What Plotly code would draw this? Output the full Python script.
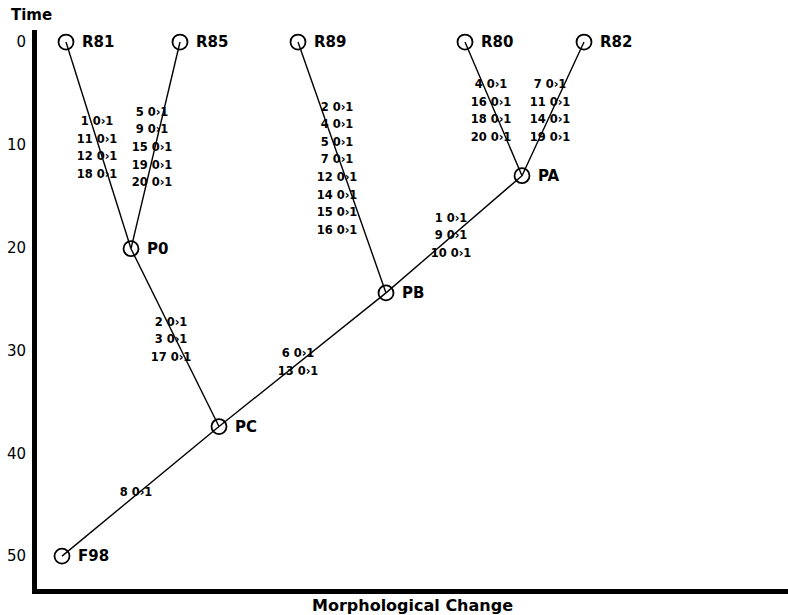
import plotly.graph_objects as go

# Taxa and hypothetical ancestors: morphological change (x) and time (y)
node_names = ["R81", "R85", "R89", "R80", "R82", "PA", "P0", "PB", "PC", "F98"]
node_change = [2.9, 14.3, 26.1, 42.8, 54.7, 48.5, 9.4, 34.9, 18.2, 2.5]
node_time = [0, 0, 0, 0, 0, 13.0, 20.1, 24.4, 37.4, 50.0]

# Branches (descendant, ancestor)
branches = [
    ("R81", "P0"), ("R85", "P0"), ("P0", "PC"),
    ("R89", "PB"), ("R80", "PA"), ("R82", "PA"),
    ("PA", "PB"), ("PB", "PC"), ("PC", "F98"),
]

# Character state changes along each branch
branch_chars = {
    ("R81", "P0"): [1, 11, 12, 18],
    ("R85", "P0"): [5, 9, 15, 19, 20],
    ("R89", "PB"): [2, 4, 5, 7, 12, 14, 15, 16],
    ("R80", "PA"): [4, 16, 18, 20],
    ("R82", "PA"): [7, 11, 14, 19],
    ("PA", "PB"): [1, 9, 10],
    ("P0", "PC"): [2, 3, 17],
    ("PB", "PC"): [6, 13],
    ("PC", "F98"): [8],
}

time_ticks = [0, 10, 20, 30, 40, 50]

# Where each list of character changes is written (x centre, time of first line)
char_label_anchor = {
    ("R81", "P0"): (6.0, 7.8),
    ("R85", "P0"): (11.5, 6.9),
    ("R89", "PB"): (30.0, 6.4),
    ("R80", "PA"): (45.4, 4.2),
    ("R82", "PA"): (51.3, 4.2),
    ("PA", "PB"): (41.4, 17.2),
    ("P0", "PC"): (13.4, 27.3),
    ("PB", "PC"): (26.1, 30.4),
    ("PC", "F98"): (9.9, 43.9),
}
line_step = 1.71  # time units between stacked labels

FONT = "DejaVu Sans"
pos = {n: (x, t) for n, x, t in zip(node_names, node_change, node_time)}

fig = go.Figure()

# branch lines
ex, ey = [], []
for a, b in branches:
    ex += [pos[a][0], pos[b][0], None]
    ey += [pos[a][1], pos[b][1], None]
fig.add_trace(go.Scatter(x=ex, y=ey, mode="lines",
                         line=dict(color="black", width=1.4),
                         hoverinfo="skip", showlegend=False))

# nodes
fig.add_trace(go.Scatter(x=node_change, y=node_time, mode="markers",
                         marker=dict(symbol="circle-open", size=15,
                                     color="black", line=dict(width=1.8)),
                         showlegend=False))

for n, x, t in zip(node_names, node_change, node_time):
    fig.add_annotation(x=x, y=t, text="<b>%s</b>" % n, showarrow=False,
                       xanchor="left", yanchor="middle", xshift=14,
                       font=dict(family=FONT, size=15, color="black"))

# character change labels
tx, ty, tt = [], [], []
for br, chars in branch_chars.items():
    x0, y0 = char_label_anchor[br]
    for i, c in enumerate(chars):
        tx.append(x0)
        ty.append(y0 + i * line_step)
        tt.append("<b>%d 0\u203a1</b>" % c)
fig.add_trace(go.Scatter(x=tx, y=ty, text=tt, mode="text",
                         textposition="middle center",
                         textfont=dict(family=FONT, size=11.5, color="black"),
                         hoverinfo="skip", showlegend=False))

fig.add_annotation(x=-0.007, y=1.0, xref="paper", yref="paper",
                   xanchor="center", yanchor="bottom", yshift=4,
                   text="<b>Time</b>", showarrow=False,
                   font=dict(family=FONT, size=15, color="black"))

fig.update_layout(
    width=788, height=615,
    margin=dict(l=37, r=0, t=30, b=26),
    paper_bgcolor="white", plot_bgcolor="white",
    xaxis=dict(range=[0, 75.1], showticklabels=False, ticks="",
               showgrid=False, zeroline=False, showline=True,
               linecolor="black", linewidth=5,
               title=dict(text="<b>Morphological Change</b>", standoff=10,
                          font=dict(family=FONT, size=16, color="black"))),
    yaxis=dict(range=[53.2, -1.17], tickvals=time_ticks, ticks="",
               showgrid=False, zeroline=False, showline=True,
               linecolor="black", linewidth=5, ticklabelstandoff=3,
               tickfont=dict(family=FONT, size=15, color="black")),
)

fig.write_html("out.html")
